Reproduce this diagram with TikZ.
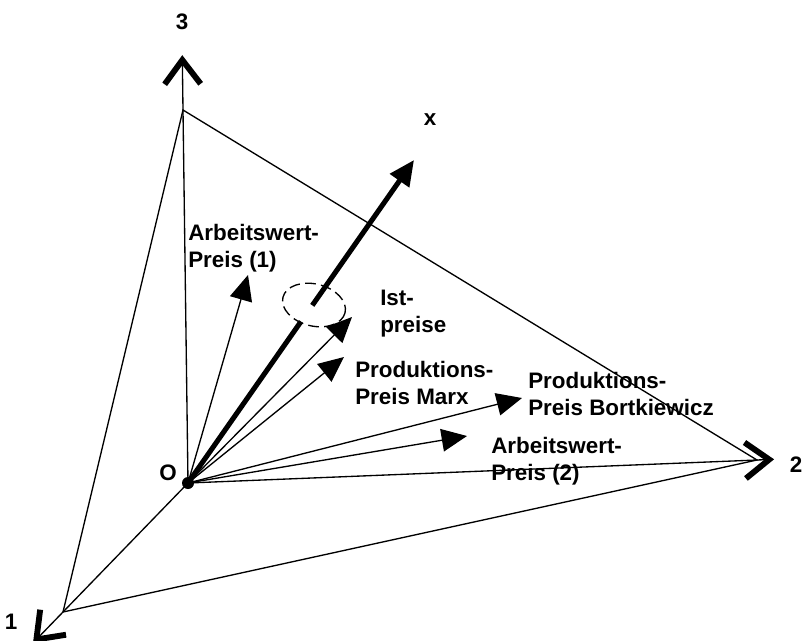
\documentclass[tikz,border=0pt]{standalone}
\usepackage{fontspec}
\setmainfont{Liberation Sans}
\usetikzlibrary{arrows.meta,calc}

\begin{document}
\begin{tikzpicture}[x=0.75pt,y=-0.75pt,
    lbl/.style={font=\bfseries\fontsize{16.8}{20.25}\selectfont,inner sep=0pt},
    vec/.style={line width=1pt,-{Triangle[length=19pt,width=17pt]}},
    axis/.style={line width=1pt,-{Straight Barb[length=18pt,width=27pt,line width=4.4pt]}}]
  \useasboundingbox (0,0) rectangle (804,640);
  % origin and the three corners
  \coordinate (O) at (188,483);
  \coordinate (v3) at (183,110);
  \coordinate (v2) at (757,460);
  \coordinate (v1) at (63,612);
  \draw[line width=1pt] (v3) -- (v2) -- (v1) -- cycle;
  % axes
  \draw[axis] (O) -- ($(O)!1.147!(v3)$) coordinate (e3);
  \draw[axis] (O) -- ($(O)!1.03!(v2)$) coordinate (e2);
  \draw[axis] (O) -- ($(O)!1.24!(v1)$) coordinate (e1);
  \node[lbl] (n3) at (182,22) {3};
  \node[lbl] (n2) at (796,465) {2};
  \node[lbl] (n1) at (11,622) {1};
  \node[lbl] (nO) at (168,473) {O};
  % price vectors
  \coordinate (tA1) at (248,275);
  \coordinate (tIst) at (352,317);
  \coordinate (tPM) at (344,357);
  \coordinate (tPB) at (522,398);
  \coordinate (tA2) at (467,436);
  \foreach \t in {tA1,tIst,tPM,tPB,tA2}{
    \draw[vec] (O) -- (\t);
  }
  % vector x through the ellipse
  \coordinate (tx) at (414,160);
  \draw[line width=3.8pt] (O) -- ($(O)!0.5!(tx)$);
  \draw[line width=3.8pt,-{Triangle[length=19pt,width=17pt]}] ($(O)!0.55!(tx)$) -- (tx);
  \draw[line width=1pt,dash pattern=on 8pt off 4pt,rotate around={-14:(314,305)}]
    (314,305) ellipse (32 and 21);
  \node[lbl] (nx) at (430,120) {x};
  \fill (O) circle (4.5pt);
  % labels
  \node[lbl,anchor=west,align=left] (lA1) at (188,248) {Arbeitswert-\\Preis (1)};
  \node[lbl,anchor=west,align=left] (lIst) at (380,314) {Ist-\\preise};
  \node[lbl,anchor=west,align=left] (lPM) at (355,383) {Produktions-\\Preis Marx};
  \node[lbl,anchor=west,align=left] (lPB) at (528,394) {Produktions-\\Preis Bortkiewicz};
  \node[lbl,anchor=west,align=left] (lA2) at (491,461) {Arbeitswert-\\Preis (2)};
\end{tikzpicture}
\end{document}
